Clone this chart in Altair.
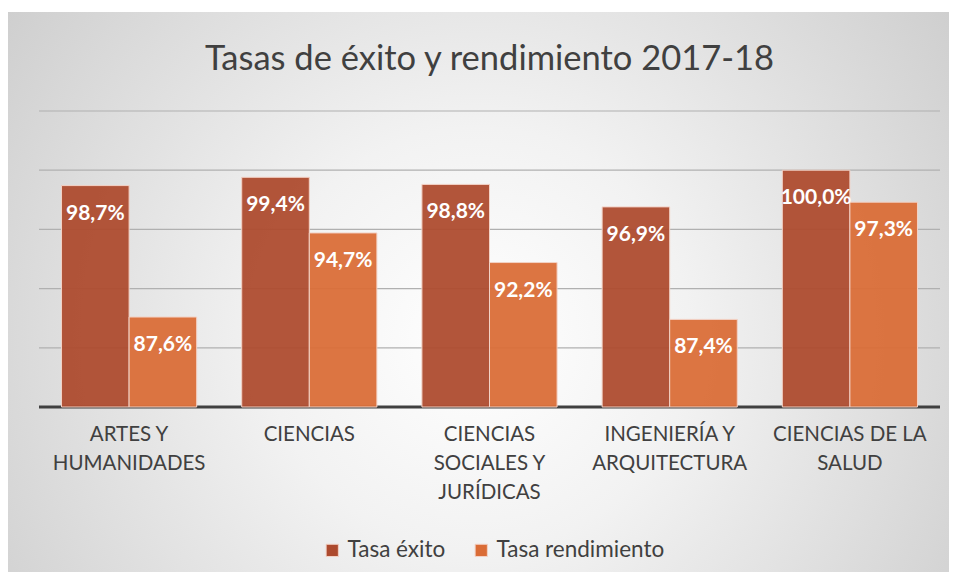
import altair as alt
import pandas as pd

categorias = ["ARTES Y|HUMANIDADES", "CIENCIAS", "CIENCIAS|SOCIALES Y|JURÍDICAS",
              "INGENIERÍA Y|ARQUITECTURA", "CIENCIAS DE LA|SALUD"]
series = ["Tasa éxito", "Tasa rendimiento"]
tasa_exito = [98.7, 99.4, 98.8, 96.9, 100.0]
tasa_rendimiento = [87.6, 94.7, 92.2, 87.4, 97.3]
colores = ["#AD4A2E", "#DA6C36"]
grid_vals = [85, 90, 95, 100, 105]
y_min, y_max = 80, 105
titulo = "Tasas de éxito y rendimiento 2017-18"

rows = []
for c, e, r in zip(categorias, tasa_exito, tasa_rendimiento):
    rows.append({"cat": c, "serie": series[0], "valor": e})
    rows.append({"cat": c, "serie": series[1], "valor": r})
df = pd.DataFrame(rows)
df["etiqueta"] = df["valor"].map(lambda v: f"{v:.1f}".replace(".", ",") + "%")

W, H = 901, 296
PL, PT, PR, PB = 31, 103, 9, 165

yscale = alt.Scale(domain=[y_min, y_max], nice=False, zero=False)
xscale = alt.Scale(paddingInner=0.25, paddingOuter=0.125)

bg = alt.Chart(pd.DataFrame({"a": [0]})).mark_rect(
    fill=alt.Gradient(
        gradient="radial",
        stops=[alt.GradientStop(color="#ffffff", offset=0),
               alt.GradientStop(color="#f2f2f2", offset=0.3),
               alt.GradientStop(color="#c2c2c2", offset=1)],
        x1=0.5, y1=0.55, r1=0, x2=0.5, y2=0.55, r2=0.75),
).encode(x=alt.value(-PL), x2=alt.value(W + PR), y=alt.value(-PT + 4), y2=alt.value(H + PB))

title_mark = alt.Chart(pd.DataFrame({"t": [titulo]})).mark_text(
    font="Lato", fontSize=34.5, color="#404040", align="center", baseline="alphabetic"
).encode(x=alt.value(W / 2), y=alt.value(-41), text="t:N")

grid = alt.Chart(pd.DataFrame({"g": grid_vals})).mark_rule(
    color="#b0b0b0", strokeWidth=1.2
).encode(y=alt.Y("g:Q", scale=yscale, axis=None))

base = alt.Chart(pd.DataFrame({"b": [y_min]})).mark_rule(
    color="#404040", strokeWidth=3
).encode(y=alt.Y("b:Q", scale=yscale, axis=None))

enc_x = alt.X("cat:N", sort=categorias, scale=xscale, title=None,
              axis=alt.Axis(labelExpr="split(datum.value, '|')", domain=False, ticks=False,
                            grid=False, labelAngle=0, labelFont="Lato", labelFontSize=20.5,
                            labelColor="#404040", labelPadding=17, labelLineHeight=29,
                            labelBaseline="top", zindex=1))

bars = alt.Chart(df).mark_bar(
    stroke="#f3d2c6", strokeWidth=1, fillOpacity=0.94
).encode(
    x=enc_x,
    xOffset=alt.XOffset("serie:N", sort=series),
    y=alt.Y("valor:Q", scale=yscale, axis=None),
    y2=alt.datum(y_min),
    color=alt.Color("serie:N", sort=series,
                    scale=alt.Scale(domain=series, range=colores),
                    legend=alt.Legend(title=None, orient="none", direction="horizontal",
                                      legendX=282, legendY=428, symbolType="square",
                                      symbolSize=150, symbolStrokeColor="#f3d2c6",
                                      symbolStrokeWidth=1, labelFont="Lato",
                                      labelFontSize=22.5, labelColor="#404040",
                                      labelLimit=400, labelOffset=4, columnPadding=24,
                                      zindex=1)),
)

labels = alt.Chart(df).mark_text(
    color="white", font="Lato", fontWeight="bold", fontSize=21, baseline="middle", dy=28
).encode(
    x=alt.X("cat:N", sort=categorias, scale=xscale),
    xOffset=alt.XOffset("serie:N", sort=series),
    y=alt.Y("valor:Q", scale=yscale),
    text="etiqueta:N",
)

chart = alt.layer(bg, grid, base, bars, labels, title_mark).properties(
    width=W, height=H,
    autosize=alt.AutoSizeParams(type="none"),
    padding={"left": PL, "top": PT, "right": PR, "bottom": PB},
).configure_view(stroke=None).configure(background="white")

chart.save("out.html", embed_options={"renderer": "svg", "actions": False})
